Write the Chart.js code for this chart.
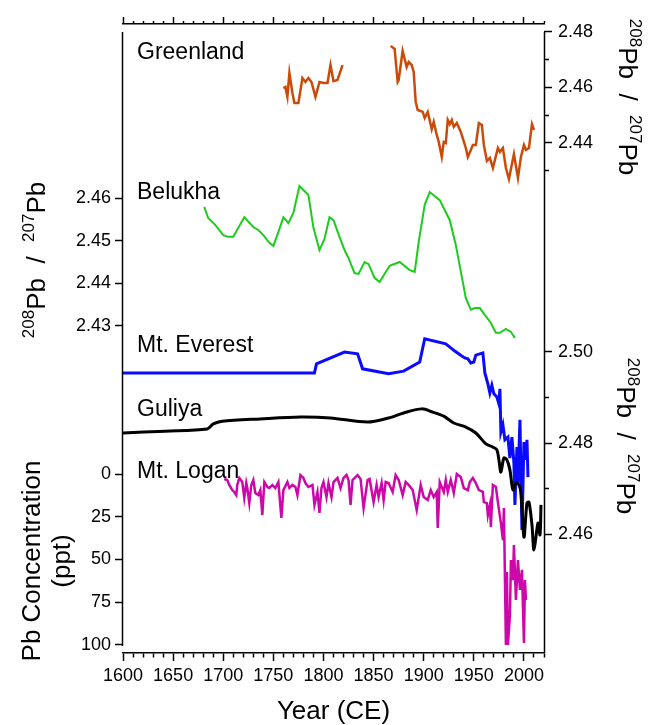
<!DOCTYPE html>
<html>
<head>
<meta charset="utf-8">
<script src="https://cdn.jsdelivr.net/npm/chart.js@4.4.1/dist/chart.umd.min.js"></script>
<style>
  html, body { margin: 0; padding: 0; background: #fff; }
</style>
</head>
<body>
<canvas id="myChart" width="657" height="725"></canvas>
<script>
// ---- data ----
const greenlandYears = [1760, 1762, 1764, 1766, 1769, 1771, 1775, 1779, 1782, 1785, 1788, 1792, 1796, 1800, 1804, 1807, 1810, 1814, 1819, 1840,
  1867, 1871, 1874, 1875, 1879, 1883, 1885, 1888, 1890, 1892, 1894, 1899, 1901, 1904, 1908, 1910, 1913, 1915, 1918, 1920,
  1922, 1924, 1926, 1928, 1930, 1933, 1937, 1942, 1944, 1947, 1949, 1952, 1955, 1958, 1960, 1963, 1966, 1969, 1974, 1976,
  1979, 1982, 1985, 1990, 1994, 1997, 2000, 2002, 2005, 2008, 2010];
const greenlandRatio = [2.4598, 2.4602, 2.4566, 2.4652, 2.4580, 2.4544, 2.4544, 2.4634, 2.4620, 2.4634, 2.4620, 2.4566, 2.4620, 2.4616, 2.4616, 2.4681, 2.4623, 2.4627, 2.4681, null,
  2.4750, 2.4739, 2.4620, 2.4627, 2.4732, 2.4674, 2.4692, 2.4681, 2.4656, 2.4548, 2.4519, 2.4512, 2.4490, 2.4512, 2.4450, 2.4476, 2.4429, 2.4404, 2.4350, 2.4404,
  2.4400, 2.4483, 2.4468, 2.4483, 2.4458, 2.4472, 2.4440, 2.4382, 2.4350, 2.4375, 2.4393, 2.4393, 2.4472, 2.4465, 2.4393, 2.4335, 2.4346, 2.4310, 2.4382, 2.4368,
  2.4382, 2.4310, 2.4270, 2.4360, 2.4274, 2.4350, 2.4393, 2.4375, 2.4382, 2.4468, 2.4447];

const belukhaYears = [1681, 1685, 1692, 1700, 1705, 1710, 1715, 1721, 1730, 1735, 1740, 1746, 1750, 1755, 1760, 1765, 1770, 1776, 1785, 1790,
  1796, 1801, 1806, 1810, 1816, 1821, 1825, 1831, 1835, 1841, 1845, 1851, 1856, 1866, 1876, 1886, 1891, 1895, 1901, 1906,
  1916, 1926, 1932, 1942, 1947, 1951, 1956, 1967, 1972, 1976, 1982, 1987, 1991];
const belukhaRatio = [2.4579, 2.4553, 2.4537, 2.4513, 2.4509, 2.4509, 2.4530, 2.4555, 2.4532, 2.4525, 2.4513, 2.4495, 2.4488, 2.4520, 2.4555, 2.4541, 2.4565, 2.4628, 2.4607, 2.4530,
  2.4478, 2.4504, 2.4555, 2.4548, 2.4509, 2.4478, 2.4459, 2.4424, 2.4422, 2.4450, 2.4445, 2.4413, 2.4403, 2.4441, 2.4450, 2.4431, 2.4427, 2.4497, 2.4584, 2.4614,
  2.4595, 2.4548, 2.4490, 2.4366, 2.4338, 2.4342, 2.4342, 2.4307, 2.4284, 2.4284, 2.4293, 2.4286, 2.4272];

const everestYears = [1600, 1791, 1793, 1821, 1834, 1839, 1865, 1880, 1896, 1901, 1922, 1931, 1938, 1941, 1944, 1947, 1950, 1952, 1959, 1961,
  1964, 1966, 1968, 1970, 1973, 1975, 1976, 1977, 1979, 1981, 1984, 1986, 1988, 1990, 1991, 1993, 1994, 1996, 1998, 2000,
  2002, 2003, 2004];
const everestRatio = [2.4954, 2.4954, 2.4974, 2.5000, 2.4996, 2.4963, 2.4952, 2.4958, 2.4978, 2.5029, 2.5018, 2.5002, 2.4991, 2.4987, 2.4985, 2.4976, 2.4978, 2.4993, 2.4998, 2.4954,
  2.4930, 2.4910, 2.4927, 2.4908, 2.4901, 2.4886, 2.4919, 2.4824, 2.4840, 2.4807, 2.4813, 2.4767, 2.4813, 2.4756, 2.4664, 2.4791, 2.4712, 2.4851, 2.4609, 2.4802,
  2.4763, 2.4807, 2.4725];

const guliyaYears = [1600, 1642, 1684, 1690, 1699, 1737, 1777, 1807, 1844, 1865, 1880, 1898, 1909, 1920, 1930, 1942, 1952, 1962, 1969, 1973,
  1975, 1977, 1980, 1983, 1986, 1989, 1992, 1995, 1997, 2000, 2003, 2005, 2008, 2010, 2014, 2016, 2017];
const guliyaRatio = [2.4822, 2.4826, 2.4831, 2.4842, 2.4848, 2.4853, 2.4857, 2.4855, 2.4846, 2.4855, 2.4866, 2.4875, 2.4868, 2.4859, 2.4844, 2.4835, 2.4822, 2.4798, 2.4791, 2.4785,
  2.4763, 2.4736, 2.4767, 2.4763, 2.4741, 2.4697, 2.4712, 2.4708, 2.4690, 2.4593, 2.4668, 2.4670, 2.4620, 2.4565, 2.4624, 2.4598, 2.4664];

const loganYears = [1701, 1704, 1706, 1709, 1711, 1713, 1714, 1716, 1719, 1721,
  1723, 1724, 1726, 1728, 1730, 1732, 1735, 1737, 1739, 1741,
  1744, 1746, 1749, 1752, 1755, 1758, 1760, 1764, 1766, 1769,
  1772, 1774, 1777, 1780, 1782, 1785, 1789, 1791, 1794, 1796,
  1798, 1800, 1803, 1805, 1808, 1810, 1814, 1817, 1820, 1823,
  1825, 1827, 1829, 1834, 1837, 1840, 1844, 1846, 1850, 1853,
  1855, 1858, 1860, 1862, 1865, 1869, 1872, 1875, 1879, 1882,
  1885, 1889, 1893, 1897, 1900, 1904, 1907, 1910, 1913, 1914,
  1916, 1920, 1922, 1924, 1927, 1930, 1933, 1937, 1940, 1944,
  1946, 1949, 1952, 1955, 1959, 1960, 1963, 1964, 1966, 1967,
  1969, 1972, 1974, 1977, 1979, 1980, 1982, 1983, 1984, 1986,
  1987, 1989, 1990, 1992, 1994, 1996, 1998, 2000, 2001, 2002];
const loganPb = [2.9, 3.5, 6.4, 9.4, 10.5, 12.3, 6.4, 2.3, 4.7, 14,
  5.3, 8.2, 17, 6.4, 3.5, 11.1, 12.3, 9.4, 24, 4.7,
  7.6, 8.2, 6.4, 8.2, 4.7, 25.7, 9.4, 4.7, 8.2, 6.4,
  7.6, 12.3, 0.6, 2.3, 5.3, 7.6, 6.4, 18.1, 10.5, 22.8,
  8.2, 4.7, 13.5, 5.3, 13.5, 4.7, 2.3, 8.2, 2.3, 0.6,
  3.5, 18.1, 3.5, 0.6, 2.9, 19.9, 3.5, 2.9, 16.4, 6.4,
  13.5, 5.3, 15.2, 4.7, 5.3, 10.5, 0.6, 3.5, 12.3, 4.7,
  6.4, 9.4, 21, 6.4, 13.5, 15.2, 9.4, 13.5, 10.5, 31.6,
  4.7, 10.5, 3.5, 10.5, 3.5, 11.1, 0, 1.8, 8.2, 9.4,
  4.7, 2.3, 5.3, 9.4, 10.5, 16.4, 17, 24, 18.1, 31,
  6.4, 7.6, 16.4, 28.7, 38.6, 19.9, 100, 57.3, 100, 82.5,
  50.3, 62, 41.5, 73.7, 50.3, 67.8, 56, 98.8, 62, 73.7];

const yearTicks = [1600, 1650, 1700, 1750, 1800, 1850, 1900, 1950, 2000];
const belukhaTicks = [2.43, 2.44, 2.45, 2.46];
const loganTicks = [0, 25, 50, 75, 100];
const greenlandTicks = [2.43, 2.44, 2.45, 2.46, 2.47, 2.48];
const everestTicks = [2.46, 2.47, 2.48, 2.49, 2.50];

// ---- layout ----
const W = 657, H = 725;
const AREA = {left: 123, right: 544, top: 24, bottom: 653};
// two reference values and the pixel rows where they sit in the figure
const calib = {
  greenland: [2.48, 32, 2.44, 143],
  belukha: [2.46, 198, 2.43, 326],
  everest: [2.50, 352, 2.46, 534],
  logan: [0, 474, 100, 645]
};
function valAt(c, px) { return c[0] + (px - c[1]) * (c[2] - c[0]) / (c[3] - c[1]); }
function pxOf(c, v) { return c[1] + (v - c[0]) * (c[3] - c[1]) / (c[2] - c[0]); }
function bounds(c) {
  const a = valAt(c, AREA.bottom), b = valAt(c, AREA.top);
  return {min: Math.min(a, b), max: Math.max(a, b)};
}
const FONT = '"Liberation Sans", Arial, sans-serif';
const isMajor = v => Math.round(v * 100) % 2 === 0;

function pts(xs, ys) { return xs.map((x, i) => ({x: x, y: ys[i]})); }

const gB = bounds(calib.greenland), bB = bounds(calib.belukha),
      eB = bounds(calib.everest), lB = bounds(calib.logan);

const seriesLabels = [
  {text: 'Greenland', y: 53},
  {text: 'Belukha', y: 193},
  {text: 'Mt. Everest', y: 346},
  {text: 'Guliya', y: 410},
  {text: 'Mt. Logan', y: 472}
];

function isoTitle(ctx, cx, cy, angle) {
  const parts = [['208', 17, -11], ['Pb  /  ', 26, 0], ['207', 17, -11], ['Pb', 26, 0]];
  ctx.save();
  ctx.translate(cx, cy);
  ctx.rotate(angle);
  ctx.fillStyle = '#000';
  ctx.textBaseline = 'alphabetic';
  ctx.textAlign = 'left';
  let total = 0;
  for (const p of parts) { ctx.font = p[1] + 'px ' + FONT; total += ctx.measureText(p[0]).width; }
  let x = -total / 2;
  for (const p of parts) {
    ctx.font = p[1] + 'px ' + FONT;
    ctx.fillText(p[0], x, 9 + p[2]);
    x += ctx.measureText(p[0]).width;
  }
  ctx.restore();
}

const textPlugin = {
  id: 'texts',
  afterDraw(chart) {
    const ctx = chart.ctx;
    const a = chart.chartArea;
    const s = chart.scales;
    ctx.save();

    // vertical axis lines, only as long as in the figure
    ctx.strokeStyle = '#000';
    ctx.lineWidth = 1.5;
    const top = Math.round(s.yR.getPixelForValue(2.48));
    ctx.beginPath();
    ctx.moveTo(a.left - 0.5, top);
    ctx.lineTo(a.left - 0.5, Math.round(s.yLogan.getPixelForValue(100)) + 1);
    ctx.moveTo(a.right + 0.5, top);
    ctx.lineTo(a.right + 0.5, a.bottom);
    ctx.stroke();

    ctx.fillStyle = '#000';
    ctx.font = '23px ' + FONT;
    ctx.textBaseline = 'middle';
    ctx.textAlign = 'left';
    for (const l of seriesLabels) ctx.fillText(l.text, a.left + 14, l.y);

    // axis titles
    isoTitle(ctx, 36, 260, -Math.PI / 2);
    isoTitle(ctx, 628, 97, Math.PI / 2);
    isoTitle(ctx, 626, 436, Math.PI / 2);

    ctx.save();
    ctx.translate(33, 561);
    ctx.rotate(-Math.PI / 2);
    ctx.font = '26px ' + FONT;
    ctx.textAlign = 'center';
    ctx.textBaseline = 'middle';
    ctx.fillText('Pb Concentration', 0, 0);
    ctx.fillText('(ppt)', 0, 30);
    ctx.restore();

    ctx.font = '26px ' + FONT;
    ctx.textAlign = 'center';
    ctx.textBaseline = 'middle';
    ctx.fillText('Year (CE)', (a.left + a.right) / 2, 712);
    ctx.restore();
  }
};

const xTickList = [];
for (let y = 1600; y <= 2020; y += 10) xTickList.push({value: y});

new Chart(document.getElementById('myChart'), {
  type: 'line',
  data: {
    datasets: [
      {label: 'Greenland', data: pts(greenlandYears, greenlandRatio), yAxisID: 'yR', borderColor: '#cc4a08', borderWidth: 2.5},
      {label: 'Belukha', data: pts(belukhaYears, belukhaRatio), yAxisID: 'yL', borderColor: '#1ccc1c', borderWidth: 2},
      {label: 'Guliya', data: pts(guliyaYears, guliyaRatio), yAxisID: 'yEv', borderColor: '#000000', borderWidth: 3, tension: 0.3},
      {label: 'Mt. Everest', data: pts(everestYears, everestRatio), yAxisID: 'yEv', borderColor: '#0a0aff', borderWidth: 3},
      {label: 'Mt. Logan', data: pts(loganYears, loganPb), yAxisID: 'yLogan', borderColor: '#cc08aa', borderWidth: 2.5}
    ]
  },
  options: {
    responsive: false,
    animation: false,
    devicePixelRatio: 1,
    layout: {padding: 0, autoPadding: false},
    elements: {point: {radius: 0}, line: {fill: false}},
    plugins: {legend: {display: false}, tooltip: {enabled: false}},
    scales: {
      x: {
        type: 'linear', position: 'bottom', min: 1600, max: 2020,
        afterBuildTicks: s => { s.ticks = xTickList.map(t => ({value: t.value})); },
        afterFit: s => { s.height = H - AREA.bottom; },
        border: {color: '#000', width: 1.5},
        grid: {
          drawOnChartArea: false, color: '#000', tickLength: 8, tickWidth: 1.5,
          tickBorderDash: c => (c.tick && yearTicks.includes(c.tick.value)) ? [] : [4, 100]
        },
        ticks: {
          autoSkip: false, maxRotation: 0, padding: 4, color: '#000',
          font: {family: FONT, size: 18},
          callback: v => yearTicks.includes(v) ? String(v) : ''
        }
      },
      xTop: {
        type: 'linear', axis: 'x', position: 'top', min: 1600, max: 2020,
        afterBuildTicks: s => { s.ticks = xTickList.map(t => ({value: t.value})); },
        afterFit: s => { s.height = AREA.top; },
        border: {color: '#000', width: 1.5},
        grid: {
          drawOnChartArea: false, color: '#000', tickLength: 7, tickWidth: 1.5,
          tickBorderDash: c => (c.tick && yearTicks.includes(c.tick.value)) ? [] : [0, 4, 3, 100]
        },
        ticks: {display: false}
      },
      yL: {
        type: 'linear', axis: 'y', position: 'left', min: bB.min, max: bB.max, bounds: 'data',
        afterBuildTicks: s => {
          const list = belukhaTicks.map(v => ({value: v, text: v.toFixed(2)}));
          for (const t of loganTicks) list.push({value: valAt(calib.belukha, pxOf(calib.logan, t)), text: String(t)});
          s.ticks = list;
        },
        afterFit: s => { s.width = AREA.left; },
        border: {display: false},
        grid: {drawOnChartArea: false, color: '#000', tickLength: 8, tickWidth: 1.5},
        ticks: {
          autoSkip: false, padding: 4, color: '#000',
          font: {family: FONT, size: 18},
          callback: (v, i, ticks) => ticks[i].text
        }
      },
      yR: {
        type: 'linear', axis: 'y', position: 'right', min: gB.min, max: gB.max, bounds: 'data',
        afterBuildTicks: s => {
          const list = greenlandTicks.map(v => ({value: v, minor: !isMajor(v), text: isMajor(v) ? v.toFixed(2) : ''}));
          for (const t of everestTicks) {
            list.push({value: valAt(calib.greenland, pxOf(calib.everest, t)), minor: !isMajor(t), text: isMajor(t) ? t.toFixed(2) : ''});
          }
          s.ticks = list;
        },
        afterFit: s => { s.width = W - AREA.right; },
        border: {display: false},
        grid: {
          drawOnChartArea: false, color: '#000', tickLength: 8, tickWidth: 1.5,
          tickBorderDash: c => (c.tick && c.tick.minor) ? [5, 100] : []
        },
        ticks: {
          autoSkip: false, padding: 6, color: '#000',
          font: {family: FONT, size: 18},
          callback: (v, i, ticks) => ticks[i].text
        }
      },
      yEv: {type: 'linear', axis: 'y', display: false, min: eB.min, max: eB.max, bounds: 'data'},
      yLogan: {type: 'linear', axis: 'y', display: false, reverse: true, min: lB.min, max: lB.max, bounds: 'data'}
    }
  },
  plugins: [textPlugin]
});
</script>
</body>
</html>
